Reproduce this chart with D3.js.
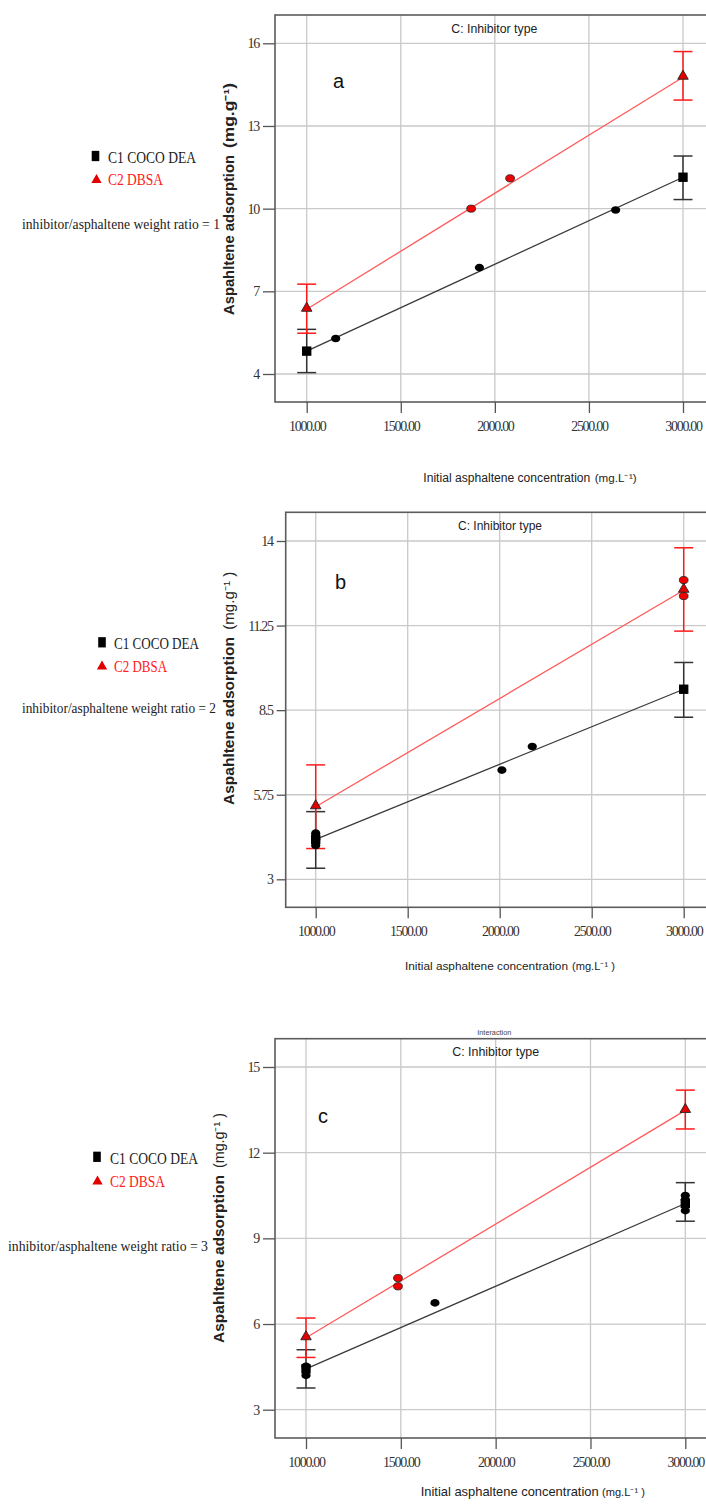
<!DOCTYPE html>
<html>
<head>
<meta charset="utf-8">
<script src="https://cdn.jsdelivr.net/npm/d3@7"></script>
<style>
  body { margin: 0; background: #fff; }
  svg { display: block; }
</style>
</head>
<body>
<svg id="chart" width="706" height="1508"></svg>
<script>
// ----------------------------
// Data
// ----------------------------
const xTicks = [1000, 1500, 2000, 2500, 3000];
const fitX = [1000, 3000];
const panelLetters = ["a", "b", "c"];
const weightRatios = [1, 2, 3];
const seriesNames = ["C1 COCO DEA", "C2 DBSA"];

// panel a
const yTicksA = [4, 7, 10, 13, 16];
const cocoFitA = [4.83, 11.14];
const dbsaFitA = [6.35, 14.77];
const cocoPointsA = [[1154, 5.29], [1918, 7.86], [2642, 9.95]];
const dbsaPointsA = [[1874, 10.0], [2081, 11.1]];
const cocoErrA = [[1000, 4.05, 5.62], [3000, 10.33, 11.91]];
const dbsaErrA = [[1000, 5.48, 7.26], [3000, 13.94, 15.7]];

// panel b
const yTicksB = [3, 5.75, 8.5, 11.25, 14];
const cocoFitB = [4.3, 9.18];
const dbsaFitB = [5.36, 12.4];
const cocoPointsB = [[1000, 4.5], [1000, 4.3], [1000, 4.1], [2012, 6.55], [2177, 7.32]];
const dbsaPointsB = [[3000, 12.73], [3000, 12.21]];
const cocoErrB = [[1000, 3.36, 5.2], [3000, 8.27, 10.05]];
const dbsaErrB = [[1000, 4.0, 6.72], [3000, 11.07, 13.78]];

// panel c
const yTicksC = [3, 6, 9, 12, 15];
const cocoFitC = [4.43, 10.22];
const dbsaFitC = [5.52, 13.48];
const cocoPointsC = [[1000, 4.52], [1000, 4.2], [1680, 6.74], [3000, 10.5], [3000, 10.35], [3000, 9.97]];
const dbsaPointsC = [[1485, 7.61], [1485, 7.32]];
const cocoErrC = [[1000, 3.76, 5.1], [3000, 9.6, 10.95]];
const dbsaErrC = [[1000, 4.83, 6.21], [3000, 12.83, 14.19]];

// ----------------------------
// Layout of each panel (pixels)
// ----------------------------
const layouts = [
  { left: 275, right: 714, top: 15, bottom: 402, x0: 306.7, x1: 683, yLoPx: 374, yHiPx: 43.3,
    yTick: 12, xTick: 11, legend: { sq: [95.5, 156], tri: [96.5, 180], tx: 108, b1: 163, b2: 185, w1: 88, w2: 55 },
    ratio: { x: 22, y: 229, w: 198 }, letter: [333, 88], header: { x: 494.3, y: 33, w: 86 },
    ylab: { x: 234, bottom: 315, mainW: 160, top: 83, unitW: 65, boldAll: true, unit: "(mg.g\u207B\u00B9)" },
    xlab: { x: 423.3, y: 481.5, mainW: 167, fs: 12, end: 636.7, unitW: 42, unit: "(mg.L\u207B\u00B9)" } },
  { left: 285.7, right: 714, top: 512.3, bottom: 907.3, x0: 315.7, x1: 683.7, yLoPx: 879.3, yHiPx: 541,
    yTick: 9, xTick: 11, legend: { sq: [102, 642.3], tri: [102, 666.5], tx: 114, b1: 649.3, b2: 671.7, w1: 85, w2: 53 },
    ratio: { x: 22, y: 712.7, w: 194 }, letter: [335, 589], header: { x: 500, y: 530, w: 84 },
    ylab: { x: 234, bottom: 805, mainW: 168, top: 571.7, unitW: 58, boldAll: false, unit: "(mg.g\u207B\u00B9 )" },
    xlab: { x: 405, y: 970, mainW: 163, fs: 11.7, end: 615, unitW: 43, unit: "(mg.L\u207B\u00B9 )" } },
  { left: 275, right: 716, top: 1038.7, bottom: 1438, x0: 306, x1: 685.3, yLoPx: 1409.7, yHiPx: 1067,
    yTick: 12, xTick: 11, legend: { sq: [97, 1156.8], tri: [97.5, 1181.5], tx: 110, b1: 1164, b2: 1187.3, w1: 88, w2: 55 },
    ratio: { x: 8, y: 1251.3, w: 200 }, letter: [318, 1123], header: { x: 495.7, y: 1056.3, w: 87 },
    ylab: { x: 224, bottom: 1343, mainW: 168, top: 1113, unitW: 55, boldAll: false, unit: "(mg.g\u207B\u00B9 )" },
    xlab: { x: 420.7, y: 1495.5, mainW: 178, fs: 12.8, end: 645, unitW: 43, unit: "(mg.L\u207B\u00B9 )" },
    interaction: { x: 494.3, y: 1034.5, w: 34 } }
];

const panels = [
  { yTicks: yTicksA, cocoFit: cocoFitA, dbsaFit: dbsaFitA, cocoPts: cocoPointsA, dbsaPts: dbsaPointsA, cocoErr: cocoErrA, dbsaErr: dbsaErrA },
  { yTicks: yTicksB, cocoFit: cocoFitB, dbsaFit: dbsaFitB, cocoPts: cocoPointsB, dbsaPts: dbsaPointsB, cocoErr: cocoErrB, dbsaErr: dbsaErrB },
  { yTicks: yTicksC, cocoFit: cocoFitC, dbsaFit: dbsaFitC, cocoPts: cocoPointsC, dbsaPts: dbsaPointsC, cocoErr: cocoErrC, dbsaErr: dbsaErrC }
];

const RED = "#ff1a1a";
const RED_LINE = "#ff5a5a";
const BLACK_LINE = "#3a3a3a";
const serif = "'Liberation Serif', 'Times New Roman', serif";
const sans = "'Liberation Sans', Arial, sans-serif";

const svg = d3.select("#chart");

// small helper: a text squeezed to a given width
function fitText(sel, x, y, w, str) {
  return sel.append("text").attr("x", x).attr("y", y)
    .attr("textLength", w).attr("lengthAdjust", "spacingAndGlyphs").text(str);
}

panels.forEach(function(p, i) {
  const L = layouts[i];
  const g = svg.append("g");

  const x = d3.scaleLinear().domain([1000, 3000]).range([L.x0, L.x1]);
  const yt = p.yTicks;
  const y = d3.scaleLinear().domain([yt[0], yt[yt.length - 1]]).range([L.yLoPx, L.yHiPx]);

  // ----------------------------
  // Grid
  // ----------------------------
  g.selectAll("line.vgrid").data(xTicks).enter().append("line")
    .attr("x1", d => x(d)).attr("x2", d => x(d))
    .attr("y1", L.top).attr("y2", L.bottom)
    .attr("stroke", "#c9c9c9").attr("stroke-width", 1.3);
  g.selectAll("line.hgrid").data(yt).enter().append("line")
    .attr("x1", L.left).attr("x2", L.right)
    .attr("y1", d => y(d)).attr("y2", d => y(d))
    .attr("stroke", "#c9c9c9").attr("stroke-width", 1.3);

  // frame
  g.append("rect")
    .attr("x", L.left).attr("y", L.top)
    .attr("width", L.right - L.left).attr("height", L.bottom - L.top)
    .attr("fill", "none").attr("stroke", "#5c5c5c").attr("stroke-width", 1.6);

  // ----------------------------
  // Axes
  // ----------------------------
  const yAxis = g.append("g")
    .attr("transform", `translate(${L.left},0)`)
    .call(d3.axisLeft(y).tickValues(yt).tickFormat(d => String(d)).tickSize(L.yTick).tickPadding(4).tickSizeOuter(0));
  const xAxis = g.append("g")
    .attr("transform", `translate(0,${L.bottom})`)
    .call(d3.axisBottom(x).tickValues(xTicks).tickFormat(d3.format(".2f")).tickSize(L.xTick).tickPadding(8).tickSizeOuter(0));
  [yAxis, xAxis].forEach(function(ax) {
    ax.select(".domain").remove();
    ax.selectAll(".tick line").attr("stroke", "#555").attr("stroke-width", 1.3);
    ax.selectAll(".tick text")
      .attr("fill", "#333")
      .style("font-family", serif)
      .style("font-size", "14px")
      .style("letter-spacing", "-1.3px");
  });

  // ----------------------------
  // Fit lines
  // ----------------------------
  const line = d3.line().x(d => x(d[0])).y(d => y(d[1]));
  g.append("path").datum(fitX.map((v, k) => [v, p.cocoFit[k]]))
    .attr("d", line).attr("fill", "none").attr("stroke", BLACK_LINE).attr("stroke-width", 1.3);
  g.append("path").datum(fitX.map((v, k) => [v, p.dbsaFit[k]]))
    .attr("d", line).attr("fill", "none").attr("stroke", RED_LINE).attr("stroke-width", 1.3);

  // ----------------------------
  // Error bars
  // ----------------------------
  function errorBars(data, color) {
    const eg = g.append("g").attr("stroke", color).attr("stroke-width", 1.5);
    data.forEach(function(e) {
      const cx = x(e[0]);
      eg.append("line").attr("x1", cx).attr("x2", cx).attr("y1", y(e[1])).attr("y2", y(e[2]));
      eg.append("line").attr("x1", cx - 9.5).attr("x2", cx + 9.5).attr("y1", y(e[1])).attr("y2", y(e[1]));
      eg.append("line").attr("x1", cx - 9.5).attr("x2", cx + 9.5).attr("y1", y(e[2])).attr("y2", y(e[2]));
    });
  }
  errorBars(p.cocoErr, "#333");
  errorBars(p.dbsaErr, RED);

  // ----------------------------
  // Design points and model markers
  // ----------------------------
  g.selectAll("ellipse.coco").data(p.cocoPts).enter().append("ellipse")
    .attr("cx", d => x(d[0])).attr("cy", d => y(d[1]))
    .attr("rx", 4.6).attr("ry", 3.8).attr("fill", "#000");
  g.selectAll("ellipse.dbsa").data(p.dbsaPts).enter().append("ellipse")
    .attr("cx", d => x(d[0])).attr("cy", d => y(d[1]))
    .attr("rx", 4.4).attr("ry", 3.6).attr("fill", "#ee0000").attr("stroke", "#222").attr("stroke-width", 0.8);

  const square = d3.symbol().type(d3.symbolSquare).size(88);
  const triangle = d3.symbol().type(d3.symbolTriangle).size(48);
  g.selectAll("path.sq").data(fitX.map((v, k) => [v, p.cocoFit[k]])).enter().append("path")
    .attr("d", square).attr("transform", d => `translate(${x(d[0])},${y(d[1])})`).attr("fill", "#000");
  g.selectAll("path.tri").data(fitX.map((v, k) => [v, p.dbsaFit[k]])).enter().append("path")
    .attr("d", triangle).attr("transform", d => `translate(${x(d[0])},${y(d[1]) - 1})`)
    .attr("fill", "#e00000").attr("stroke", "#222").attr("stroke-width", 0.9);

  // ----------------------------
  // Texts
  // ----------------------------
  if (L.interaction) {
    fitText(g, L.interaction.x - L.interaction.w / 2, L.interaction.y, L.interaction.w, "Interaction")
      .style("font-family", sans).style("font-size", "7px").attr("fill", "#444");
  }
  fitText(g, L.header.x - L.header.w / 2, L.header.y, L.header.w, "C: Inhibitor type")
    .style("font-family", sans).style("font-size", "12.5px").attr("fill", "#222");

  g.append("text").attr("x", L.letter[0]).attr("y", L.letter[1])
    .style("font-family", sans).style("font-size", "20px").attr("fill", "#111").text(panelLetters[i]);

  // y label: title part from the bottom, unit part at the top
  const yl = g.append("g").attr("transform", `translate(${L.ylab.x},0) rotate(-90)`)
    .style("font-family", sans).style("font-size", "14px").attr("fill", "#222");
  fitText(yl, -L.ylab.bottom, 0, L.ylab.mainW, "Aspahltene adsorption").style("font-weight", "bold");
  fitText(yl, -(L.ylab.top + L.ylab.unitW), 0, L.ylab.unitW, L.ylab.unit)
    .style("font-weight", L.ylab.boldAll ? "bold" : "normal");

  // x label
  fitText(g, L.xlab.x, L.xlab.y, L.xlab.mainW, "Initial asphaltene concentration")
    .style("font-family", sans).style("font-size", L.xlab.fs + "px").attr("fill", "#222");
  fitText(g, L.xlab.end - L.xlab.unitW, L.xlab.y, L.xlab.unitW, L.xlab.unit)
    .style("font-family", sans).style("font-size", "10.5px").attr("fill", "#222");

  // legend
  const lg = L.legend;
  g.append("path").attr("d", d3.symbol().type(d3.symbolSquare).size(80))
    .attr("transform", `translate(${lg.sq[0]},${lg.sq[1]}) scale(0.85,1.15)`).attr("fill", "#000");
  g.append("path").attr("d", d3.symbol().type(d3.symbolTriangle).size(46))
    .attr("transform", `translate(${lg.tri[0]},${lg.tri[1]})`).attr("fill", "#e00000");
  fitText(g, lg.tx, lg.b1, lg.w1, seriesNames[0])
    .style("font-family", serif).style("font-size", "17px").attr("fill", "#222");
  fitText(g, lg.tx, lg.b2, lg.w2, seriesNames[1])
    .style("font-family", serif).style("font-size", "17px").attr("fill", "#ff2020");
  fitText(g, L.ratio.x, L.ratio.y, L.ratio.w, `inhibitor/asphaltene weight ratio = ${weightRatios[i]}`)
    .style("font-family", serif).style("font-size", "15px").attr("fill", "#222");
});
</script>
</body>
</html>
